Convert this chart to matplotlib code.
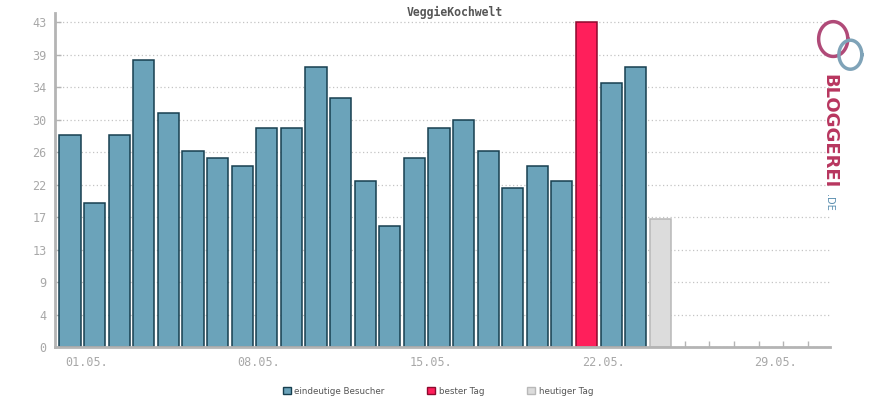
import matplotlib
matplotlib.use("Agg")
import matplotlib.pyplot as plt
from matplotlib.patches import Patch
import numpy as np

# daily unique visitors, May (day 25 = today)
days = list(range(1, 26))
visitors = [28, 19, 28, 38, 31, 26, 25, 24, 29, 29, 37, 33, 22,
            16, 25, 29, 30, 26, 21, 24, 22, 43, 35, 37, 17]
best_day = 22
today = 25
tick_days = [1, 8, 15, 22, 29]
tick_labels = ["01.05.", "08.05.", "15.05.", "22.05.", "29.05."]
y_max = 43

BLUE = "#6ba3ba"
BLUE_EDGE = "#173f4f"
RED = "#ff1f5b"
RED_EDGE = "#8c0a2e"
GREY = "#dcdcdc"
GREY_EDGE = "#b8b8b8"
AXIS = "#b4b4b4"
TEXT = "#a8a8a8"


def main():
    fig = plt.figure(figsize=(8.7, 4.0), dpi=100)
    ax = fig.add_axes([55 / 870, 53 / 400, 775 / 870, 334 / 400])

    colors, edges = [], []
    for d in days:
        if d == best_day:
            colors.append(RED)
            edges.append(RED_EDGE)
        elif d == today:
            colors.append(GREY)
            edges.append(GREY_EDGE)
        else:
            colors.append(BLUE)
            edges.append(BLUE_EDGE)
    ax.bar(days, visitors, width=0.86, color=colors, edgecolor=edges,
           linewidth=1.1, zorder=3)

    ax.set_xlim(0.39, 31.9)
    ax.set_ylim(0, 44.2)

    # y ticks: 10 equal steps up to the max, labels rounded
    yt = np.linspace(0, y_max, 11)
    ax.set_yticks(yt)
    ax.set_yticklabels([str(int(v + 0.5)) for v in yt])
    ax.yaxis.grid(True, linestyle=(0, (1, 2)), color="#c4c4c4", linewidth=0.9, zorder=0)

    # x ticks on every day, labels every week (slightly shifted right)
    ax.set_xticks(range(1, 32))
    ax.set_xticklabels([])
    for d, lab in zip(tick_days, tick_labels):
        ax.text(d + 0.68, -1.2, lab, ha="center", va="top", fontsize=8.5,
                family="DejaVu Sans Mono", color=TEXT,
                transform=ax.transData)

    ax.tick_params(axis="both", direction="in", length=4, width=1, color=AXIS)
    ax.tick_params(axis="y", labelsize=8.5, labelcolor=TEXT, pad=6)
    for lab in ax.get_yticklabels():
        lab.set_family("DejaVu Sans Mono")

    for side in ("top", "right"):
        ax.spines[side].set_visible(False)
    for side in ("left", "bottom"):
        ax.spines[side].set_color(AXIS)
        ax.spines[side].set_linewidth(2)
        ax.spines[side].set_zorder(4)

    fig.text(455 / 870, 1 - 12 / 400, "VeggieKochwelt", ha="center", va="center",
             fontsize=8.3, fontweight="bold", family="DejaVu Sans Mono", color="#555555")

    # legend
    handles = [
        Patch(facecolor=BLUE, edgecolor=BLUE_EDGE, label="eindeutige Besucher"),
        Patch(facecolor=RED, edgecolor=RED_EDGE, label="bester Tag"),
        Patch(facecolor=GREY, edgecolor=GREY_EDGE, label="heutiger Tag"),
    ]
    fig.legend(handles=handles, loc="center", bbox_to_anchor=(438 / 870, 1 - 391 / 400),
               ncol=3, frameon=False, fontsize=6.3, handlelength=0.9, handleheight=0.9,
               handletextpad=0.4, columnspacing=4.9, labelcolor="#555555")

    # bloggerei logo
    fig.text(829 / 870, 1 - 131 / 400, "BLOGGEREI", rotation=270, ha="center", va="center",
             fontsize=13, fontweight="bold", color="#b8365f", family="DejaVu Sans")
    fig.text(829 / 870, 1 - 202 / 400, ".DE", rotation=270, ha="center", va="center",
             fontsize=7, color="#5b8fb0", family="DejaVu Sans")
    t = np.linspace(0, 2 * np.pi, 100)
    lx = fig.add_axes([815 / 870, 1 - 75 / 400, 52 / 870, 58 / 400])
    lx.axis("off")
    lx.plot(0.35 + 0.28 * np.cos(t), 0.62 + 0.3 * np.sin(t), color="#b04a78", lw=2.5)
    lx.plot(0.68 + 0.22 * np.cos(t), 0.35 + 0.25 * np.sin(t), color="#7fa3b8", lw=2.5)
    lx.set_xlim(0, 1)
    lx.set_ylim(0, 1)

    fig.savefig("out.png", dpi=100)


if __name__ == "__main__":
    main()
